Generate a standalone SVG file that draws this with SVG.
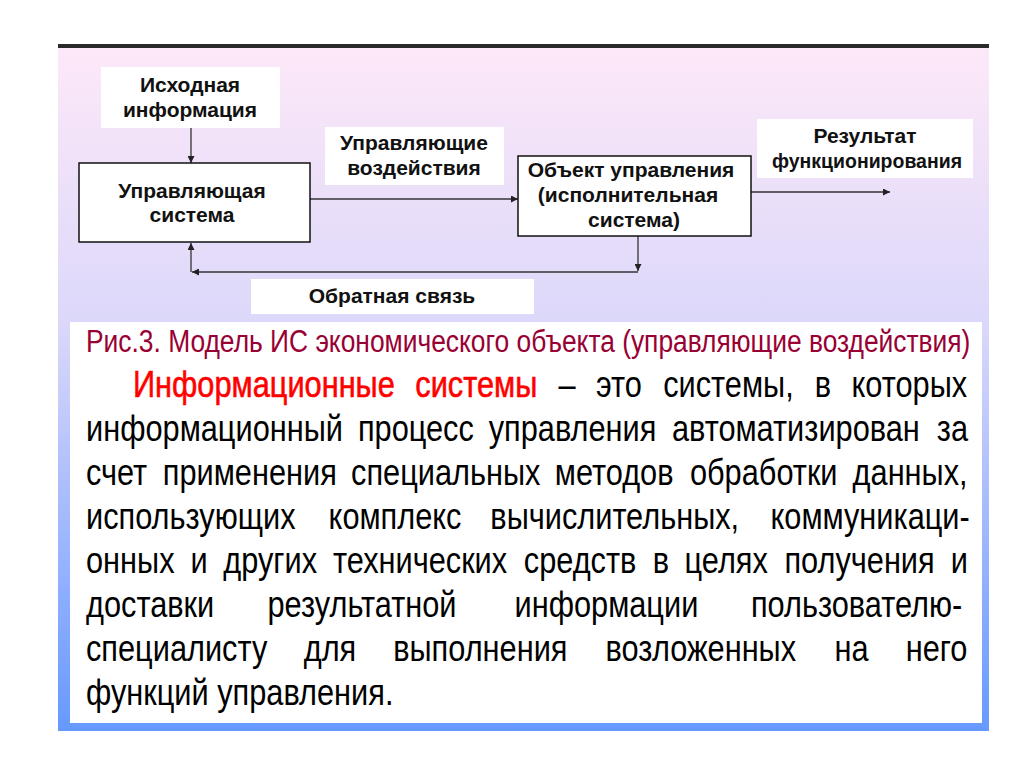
<svg xmlns="http://www.w3.org/2000/svg" width="1024" height="767" viewBox="0 0 1024 767">
<defs>
<linearGradient id="bg" x1="0" y1="0" x2="0" y2="1">
<stop offset="0" stop-color="#fde8f8"/>
<stop offset="0.4" stop-color="#dcd8fa"/>
<stop offset="1" stop-color="#6699ff"/>
</linearGradient>
<marker id="ah" viewBox="0 0 10 10" refX="10" refY="5" markerWidth="7" markerHeight="7" markerUnits="userSpaceOnUse" orient="auto">
<path d="M0,0 L10,5 L0,10 z" fill="#222"/>
</marker>
<style>
.lbl{fill:#fff;stroke:none}
.box{fill:#fff;stroke:#111;stroke-width:1.5}
.t{font-family:"Liberation Sans",Arial,sans-serif;font-weight:bold;font-size:21px;fill:#111;text-anchor:middle}
.c{stroke:#333;stroke-width:1.3;fill:none;marker-end:url(#ah)}
.body{font-family:"Liberation Sans",Arial,sans-serif;font-size:37.5px;fill:#000}
.cap{font-family:"Liberation Sans",Arial,sans-serif;font-size:31px;fill:#990033}
.red{fill:#ff0000;stroke:#ff0000;stroke-width:0.6}
</style>
</defs>
<rect x="0" y="0" width="1024" height="767" fill="#fff"/>
<rect x="58" y="48" width="931" height="683" fill="url(#bg)"/>
<rect x="58" y="44" width="931" height="4" fill="#2a2a2a"/>

<g id="connectors">
<line class="c" x1="191" y1="128" x2="191" y2="163"/>
<line class="c" x1="310" y1="199" x2="518" y2="199"/>
<line class="c" x1="751" y1="192" x2="890" y2="192"/>
<line class="c" x1="638" y1="236" x2="638" y2="271"/>
<line class="c" x1="638" y1="272" x2="192" y2="272"/>
<line class="c" x1="191" y1="272" x2="191" y2="243"/>
</g>

<g id="ishodnaya">
<rect class="lbl" x="101" y="67" width="179" height="61"/>
<text class="t" x="190" y="92">Исходная</text>
<text class="t" x="190" y="117">информация</text>
</g>
<g id="upr-sistema">
<rect class="box" x="79" y="163" width="231" height="79"/>
<text class="t" x="192" y="198">Управляющая</text>
<text class="t" x="192" y="222">система</text>
</g>
<g id="upr-vozd">
<rect class="lbl" x="325" y="127" width="179" height="58"/>
<text class="t" x="414" y="150">Управляющие</text>
<text class="t" x="414" y="175">воздействия</text>
</g>
<g id="obekt">
<rect class="box" x="518" y="156" width="233" height="80"/>
<text class="t" x="631" y="177">Объект управления</text>
<text class="t" x="628" y="202">(исполнительная</text>
<text class="t" x="634" y="227">система)</text>
</g>
<g id="rezultat">
<rect class="lbl" x="757" y="119" width="216" height="59"/>
<text class="t" x="865" y="143">Результат</text>
<text class="t" x="867" y="168" textLength="190" lengthAdjust="spacingAndGlyphs">функционирования</text>
</g>
<g id="obratnaya">
<rect class="lbl" x="251" y="279" width="283" height="35"/>
<text class="t" x="392" y="303">Обратная связь</text>
</g>

<g id="textbox">
<rect x="70" y="322" width="912" height="401" fill="#fff"/>
<text class="cap" transform="scale(0.851,1)" x="101.06" y="352">Рис.3. Модель ИС экономического объекта (управляющие воздействия)</text>
<g transform="scale(0.82,1)">
<text class="body" y="397"><tspan class="red" x="162.2">Информационные</tspan><tspan class="red" x="506.46">системы</tspan><tspan x="680.98">–</tspan><tspan x="726.71">это</tspan><tspan x="808.78">системы,</tspan><tspan x="993.66">в</tspan><tspan x="1038.41">которых</tspan></text>
<text class="body" y="441"><tspan x="104.88">информационный</tspan><tspan x="436.46">процесс</tspan><tspan x="595.98">управления</tspan><tspan x="819.39">автоматизирован</tspan><tspan x="1142.44">за</tspan></text>
<text class="body" y="485"><tspan x="104.88">счет</tspan><tspan x="198.54">применения</tspan><tspan x="428.17">специальных</tspan><tspan x="676.59">методов</tspan><tspan x="841.34">обработки</tspan><tspan x="1039.76">данных,</tspan></text>
<text class="body" y="529"><tspan x="104.88">использующих</tspan><tspan x="400.73">комплекс</tspan><tspan x="597.93">вычислительных,</tspan><tspan x="939.63">коммуникаци-</tspan></text>
<text class="body" y="573"><tspan x="104.88">онных</tspan><tspan x="232.2">и</tspan><tspan x="272.2">других</tspan><tspan x="406.1">технических</tspan><tspan x="638.78">средств</tspan><tspan x="795.98">в</tspan><tspan x="834.88">целях</tspan><tspan x="956.59">получения</tspan><tspan x="1159.51">и</tspan></text>
<text class="body" y="617"><tspan x="104.88">доставки</tspan><tspan x="326.22">результатной</tspan><tspan x="627.44">информации</tspan><tspan x="915.73">пользователю-</tspan></text>
<text class="body" y="661"><tspan x="104.88">специалисту</tspan><tspan x="370.37">для</tspan><tspan x="479.51">выполнения</tspan><tspan x="738.41">возложенных</tspan><tspan x="1017.68">на</tspan><tspan x="1104.51">него</tspan></text>
<text class="body" x="104.88" y="705">функций управления.</text>
</g>
</g>
</svg>
